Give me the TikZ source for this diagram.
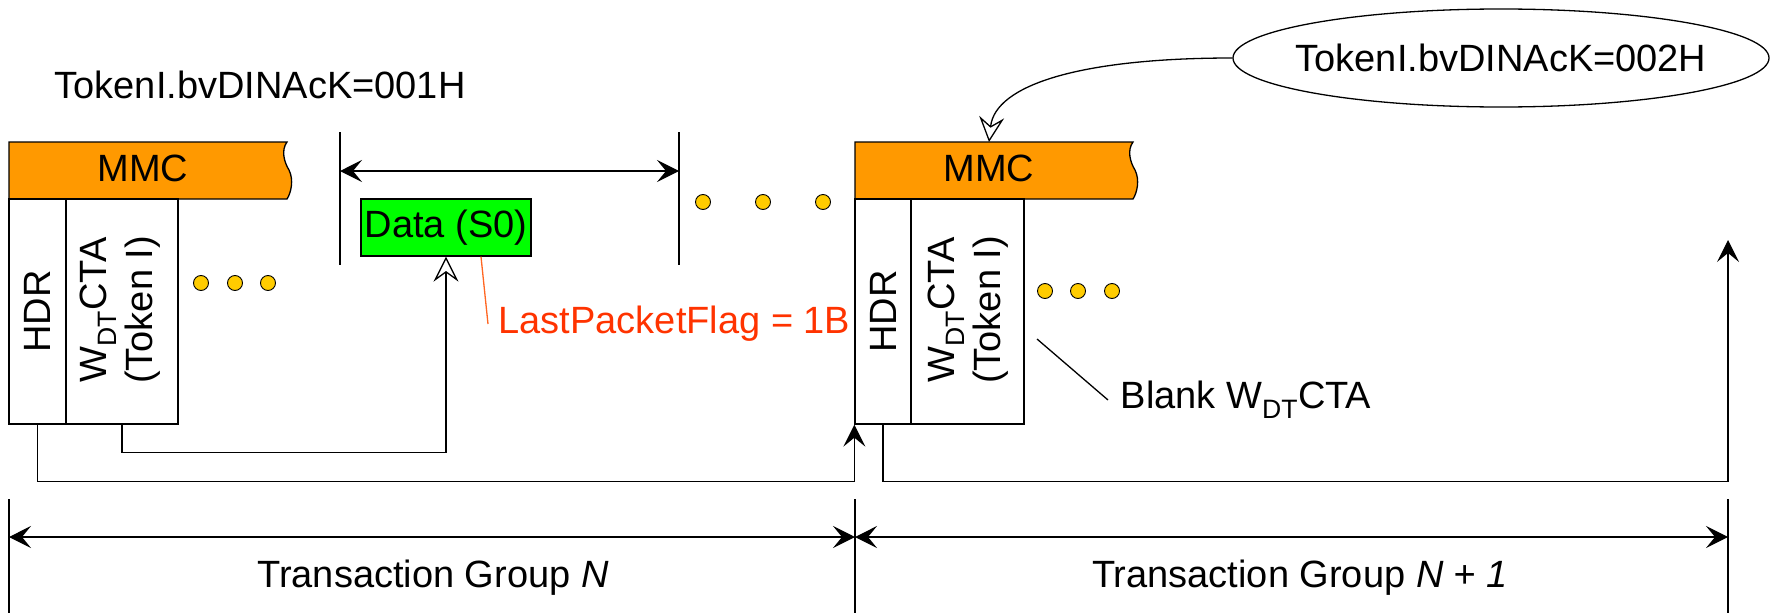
\documentclass[tikz,border=0pt]{standalone}
\usepackage{fontspec}
\setmainfont{Liberation Sans}
\usetikzlibrary{arrows.meta,shapes.geometric}
\definecolor{mmcorange}{HTML}{FF9900}
\definecolor{datagreen}{HTML}{00FF00}
\definecolor{dotyellow}{HTML}{FFCC00}
\definecolor{flagred}{HTML}{FF3300}
\definecolor{flagline}{HTML}{FF6622}
\tikzset{
  fat/.tip={Stealth[length=22pt,width=22pt,inset=9pt]},
  hollow/.tip={Stealth[open,length=25pt,width=25pt,inset=9pt]},
  colbox/.style={draw,minimum height=225pt,inner sep=0pt},
  dotc/.style={draw,fill=dotyellow,line width=0.9pt},
  lbl/.style={inner sep=0pt},
}
\begin{document}
\begin{tikzpicture}[x=1pt,y=-1pt,line width=1.3pt,font=\fontsize{38}{46}\selectfont]
\useasboundingbox (0,0) rectangle (1777,613);

% MMC bars
\foreach \dx in {0,846}{
  \begin{scope}[xshift=\dx pt]
    \draw[fill=mmcorange] (9,142) -- (287,142) .. controls (281,150) and (284,162) .. (289,170)
       .. controls (294,180) and (291,193) .. (287,199) -- (9,199) -- cycle;
  \end{scope}
}
\node[lbl] (mmc1) at (143,168) {MMC};
\node[lbl] (mmc2) at (989,168) {MMC};

% columns group 1
\node[colbox,minimum width=57pt] (hdr1) at (37.5,311.5) {};
\node[rotate=90,lbl] (hdr1t) at (hdr1.center) {HDR};
\node[colbox,minimum width=112pt] (w1) at (122,311.5) {};
\node[rotate=90,lbl,align=center] (w1t) at (120,310) {W\textsubscript{DT}CTA\\(Token I)};

% columns group 2
\node[colbox,minimum width=56pt] (hdr2) at (883,311.5) {};
\node[rotate=90,lbl] (hdr2t) at (hdr2.center) {HDR};
\node[colbox,minimum width=113pt] (w2) at (967.5,311.5) {};
\node[rotate=90,lbl,align=center] (w2t) at (968,310) {W\textsubscript{DT}CTA\\(Token I)};

% dots
\foreach \x in {201,235,268} \draw[dotc] (\x,283) circle (7.5pt);
\foreach \x in {703,763,823} \draw[dotc] (\x,202) circle (7.5pt);
\foreach \x in {1045,1078,1112} \draw[dotc] (\x,291) circle (7.5pt);

% top token label
\node[lbl,anchor=west] (tok1) at (54,85) {TokenI.bvDINAcK=001H};

% ellipse token
\node[draw,ellipse,minimum width=536pt,minimum height=98pt,inner sep=0pt] (tok2) at (1501,58) {};
\node[lbl] (tok2t) at (tok2.center) {TokenI.bvDINAcK=002H};
\coordinate (tok2tip) at (989,142);
\draw[-hollow] (tok2.west) .. controls (1080,58) and (995,85) .. (tok2tip);

% data box and span
\node[draw,fill=datagreen,minimum width=170pt,minimum height=57pt,inner sep=0pt] (data) at (446,227.5) {Data (S0)};
\coordinate (b1t) at (340,132); \coordinate (b1b) at (340,265);
\coordinate (b2t) at (679,132); \coordinate (b2b) at (679,265);
\draw (b1t) -- (b1b);
\draw (b2t) -- (b2b);
\draw[fat-fat] ([yshift=-39pt]b1t) -- ([yshift=-39pt]b2t);

% last packet flag
\node[anchor=west,inner sep=10pt,text=flagred] (lpf) at (488,324) {LastPacketFlag = 1B};
\draw[flagline] ([xshift=35pt]data.south) -- (lpf.west);

% blank label
\node[anchor=west,inner sep=12pt] (blank) at (1108,400) {Blank W\textsubscript{DT}CTA};
\coordinate (blankstart) at (1037,339);
\draw (blankstart) -- (blank.west);

% connectors
\draw[-fat] (hdr1.south) -- ++(0,57) -| (hdr2.south west);
\draw[-hollow] (w1.south) -- ++(0,28) -| (data.south);
\coordinate (end3) at (1728,240);
\draw[-fat] (hdr2.south) -- ++(0,57) -| (end3);

% bottom dimensions
\coordinate (t1) at (9,499); \coordinate (t2) at (855,499); \coordinate (t3) at (1728,499);
\coordinate (t1b) at (9,613); \coordinate (t2b) at (855,613); \coordinate (t3b) at (1728,613);
\draw (t1) -- (t1b);
\draw (t2) -- (t2b);
\draw (t3) -- (t3b);
\draw[fat-fat] ([yshift=-38pt]t1) -- ([yshift=-38pt]t2);
\draw[fat-fat] ([yshift=-38pt]t2) -- ([yshift=-38pt]t3);
\node[lbl] (tg1) at (433,578) {Transaction Group \textit{N}};
\node[lbl] (tg2) at (1300,578) {Transaction Group \textit{N + 1}};
\end{tikzpicture}
\end{document}
